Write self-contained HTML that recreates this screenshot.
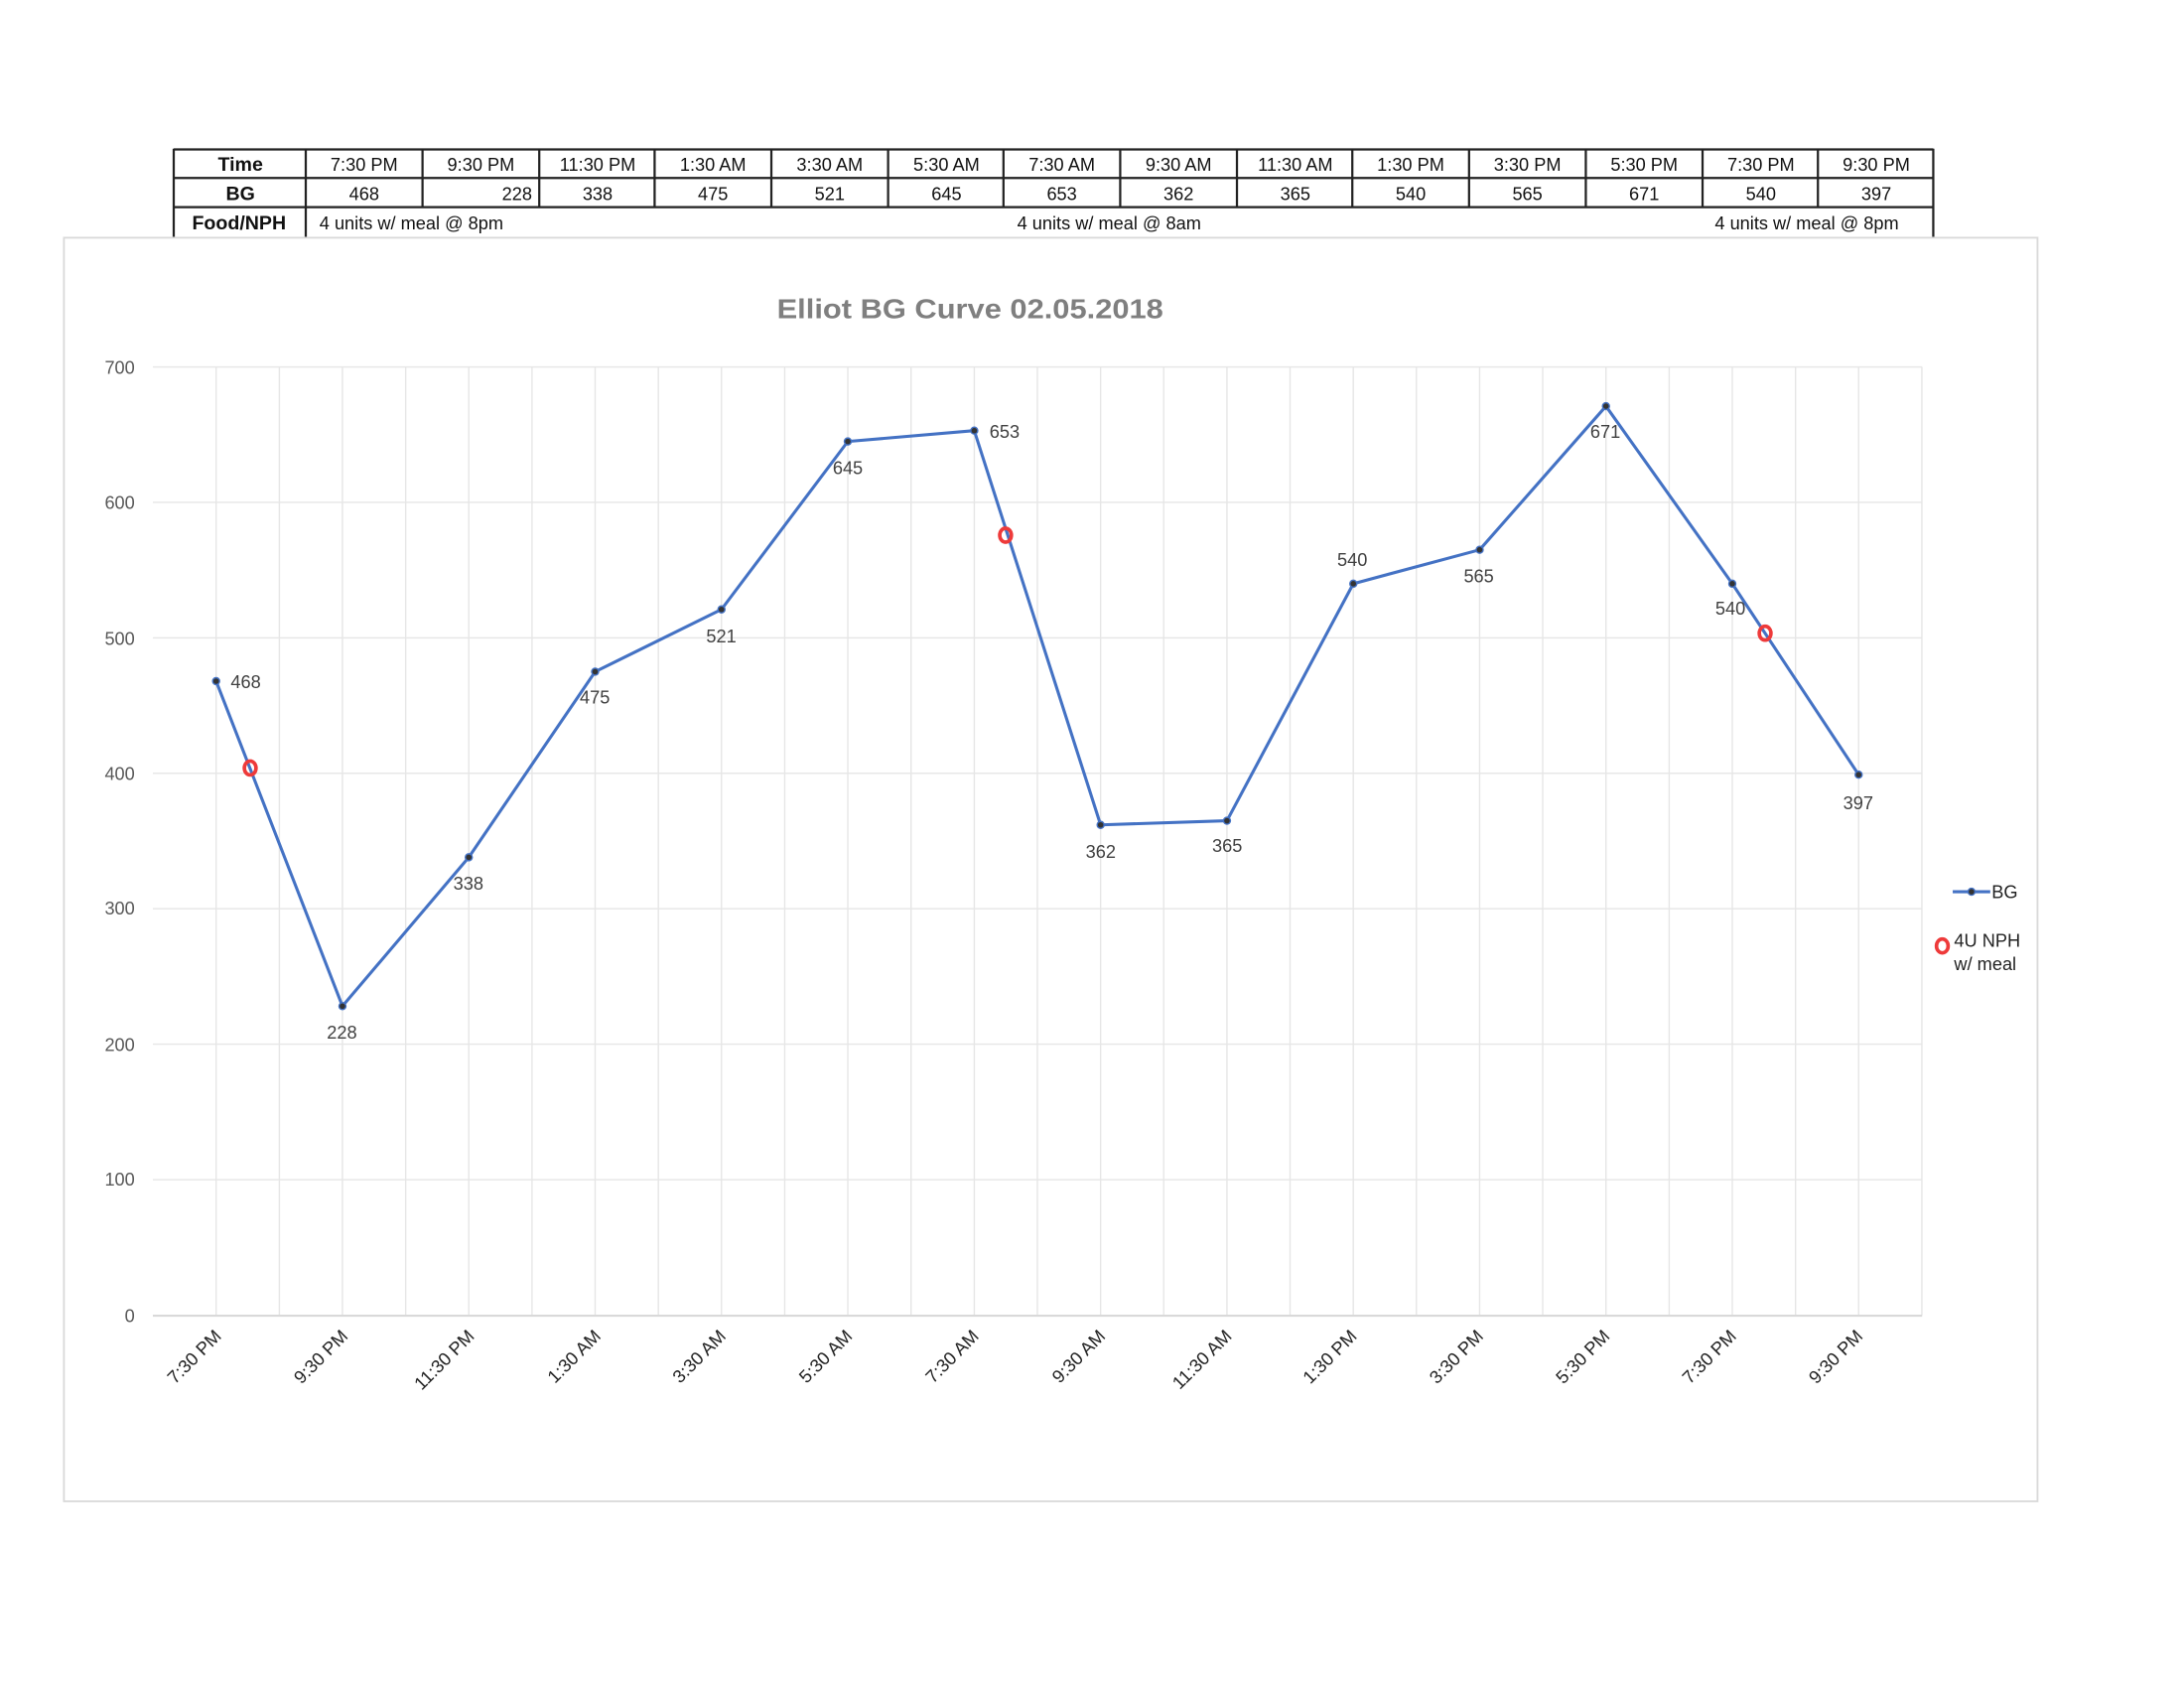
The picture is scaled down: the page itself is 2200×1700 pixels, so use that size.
<!DOCTYPE html>
<html><head><meta charset="utf-8"><style>html,body{margin:0;padding:0;background:#fff}svg{display:block}</style></head>
<body>
<svg width="2200" height="1700" viewBox="0 0 1571.4 1214.3" preserveAspectRatio="none" xmlns="http://www.w3.org/2000/svg" font-family="Liberation Sans, DejaVu Sans, sans-serif">
<rect width="1571.4" height="1214.3" fill="#fff"/>
<!-- table -->
<g stroke="#222" stroke-width="1.6" fill="none">
<line x1="125" y1="107.5" x2="1391" y2="107.5"/>
<line x1="125" y1="128" x2="1391" y2="128"/>
<line x1="125" y1="149" x2="1391" y2="149"/>
<line x1="125" y1="107" x2="125" y2="171"/>
<line x1="220" y1="107" x2="220" y2="171"/>
<line x1="1391" y1="107" x2="1391" y2="171"/>
<g>
<line x1="304" y1="107" x2="304" y2="149"/><line x1="388" y1="107" x2="388" y2="149"/><line x1="471" y1="107" x2="471" y2="149"/><line x1="555" y1="107" x2="555" y2="149"/><line x1="639" y1="107" x2="639" y2="149"/><line x1="722" y1="107" x2="722" y2="149"/><line x1="806" y1="107" x2="806" y2="149"/><line x1="890" y1="107" x2="890" y2="149"/><line x1="973" y1="107" x2="973" y2="149"/><line x1="1057" y1="107" x2="1057" y2="149"/><line x1="1141" y1="107" x2="1141" y2="149"/><line x1="1225" y1="107" x2="1225" y2="149"/><line x1="1308" y1="107" x2="1308" y2="149"/>
</g></g>
<g font-size="13" fill="#111" text-anchor="middle">
<text x="173" y="123" font-weight="bold" font-size="14">Time</text>
<text x="173" y="144" font-weight="bold" font-size="14">BG</text>
<text x="172" y="165" font-weight="bold" font-size="14">Food/NPH</text>
<text x="262" y="123">7:30 PM</text><text x="346" y="123">9:30 PM</text><text x="430" y="123">11:30 PM</text><text x="513" y="123">1:30 AM</text><text x="597" y="123">3:30 AM</text><text x="681" y="123">5:30 AM</text><text x="764" y="123">7:30 AM</text><text x="848" y="123">9:30 AM</text><text x="932" y="123">11:30 AM</text><text x="1015" y="123">1:30 PM</text><text x="1099" y="123">3:30 PM</text><text x="1183" y="123">5:30 PM</text><text x="1267" y="123">7:30 PM</text><text x="1350" y="123">9:30 PM</text>
<text x="262" y="144">468</text><text x="372" y="144">228</text><text x="430" y="144">338</text><text x="513" y="144">475</text><text x="597" y="144">521</text><text x="681" y="144">645</text><text x="764" y="144">653</text><text x="848" y="144">362</text><text x="932" y="144">365</text><text x="1015" y="144">540</text><text x="1099" y="144">565</text><text x="1183" y="144">671</text><text x="1267" y="144">540</text><text x="1350" y="144">397</text>
<text x="296" y="165">4 units w/ meal @ 8pm</text>
<text x="798" y="165">4 units w/ meal @ 8am</text>
<text x="1300" y="165">4 units w/ meal @ 8pm</text>
</g>
<!-- chart box -->
<rect x="46" y="171" width="1420" height="909" fill="#fff" stroke="#d9d9d9" stroke-width="1.3"/>
<text x="698" y="229" text-anchor="middle" font-size="20" font-weight="bold" fill="#7f7f7f" textLength="278" lengthAdjust="spacingAndGlyphs">Elliot BG Curve 02.05.2018</text>
<!-- grid -->
<g stroke="#e6e6e6" stroke-width="1">
<line x1="110" y1="264" x2="1383" y2="264"/><line x1="110" y1="361.4" x2="1383" y2="361.4"/><line x1="110" y1="458.9" x2="1383" y2="458.9"/><line x1="110" y1="556.3" x2="1383" y2="556.3"/><line x1="110" y1="653.7" x2="1383" y2="653.7"/><line x1="110" y1="751.1" x2="1383" y2="751.1"/><line x1="110" y1="848.6" x2="1383" y2="848.6"/>
<line x1="155.5" y1="264" x2="155.5" y2="946"/><line x1="201" y1="264" x2="201" y2="946"/><line x1="246.4" y1="264" x2="246.4" y2="946"/><line x1="291.9" y1="264" x2="291.9" y2="946"/><line x1="337.3" y1="264" x2="337.3" y2="946"/><line x1="382.8" y1="264" x2="382.8" y2="946"/><line x1="428.2" y1="264" x2="428.2" y2="946"/><line x1="473.7" y1="264" x2="473.7" y2="946"/><line x1="519.1" y1="264" x2="519.1" y2="946"/><line x1="564.6" y1="264" x2="564.6" y2="946"/><line x1="610" y1="264" x2="610" y2="946"/><line x1="655.5" y1="264" x2="655.5" y2="946"/><line x1="701" y1="264" x2="701" y2="946"/><line x1="746.4" y1="264" x2="746.4" y2="946"/><line x1="791.9" y1="264" x2="791.9" y2="946"/><line x1="837.3" y1="264" x2="837.3" y2="946"/><line x1="882.8" y1="264" x2="882.8" y2="946"/><line x1="928.2" y1="264" x2="928.2" y2="946"/><line x1="973.7" y1="264" x2="973.7" y2="946"/><line x1="1019.1" y1="264" x2="1019.1" y2="946"/><line x1="1064.6" y1="264" x2="1064.6" y2="946"/><line x1="1110" y1="264" x2="1110" y2="946"/><line x1="1155.5" y1="264" x2="1155.5" y2="946"/><line x1="1201" y1="264" x2="1201" y2="946"/><line x1="1246.4" y1="264" x2="1246.4" y2="946"/><line x1="1291.9" y1="264" x2="1291.9" y2="946"/><line x1="1337.3" y1="264" x2="1337.3" y2="946"/><line x1="1382.8" y1="264" x2="1382.8" y2="946"/>
</g>
<line x1="110" y1="946.5" x2="1383" y2="946.5" stroke="#d9d9d9" stroke-width="1.5"/>
<g font-size="13" fill="#595959" text-anchor="end">
<text x="97" y="269">700</text><text x="97" y="366">600</text><text x="97" y="464">500</text><text x="97" y="561">400</text><text x="97" y="658">300</text><text x="97" y="756">200</text><text x="97" y="853">100</text><text x="97" y="951">0</text>
</g>
<g font-size="13" fill="#222" text-anchor="end">
<text transform="translate(160,962) rotate(-45)">7:30 PM</text>
<text transform="translate(251,962) rotate(-45)">9:30 PM</text>
<text transform="translate(342,962) rotate(-45)">11:30 PM</text>
<text transform="translate(433,962) rotate(-45)">1:30 AM</text>
<text transform="translate(523,962) rotate(-45)">3:30 AM</text>
<text transform="translate(614,962) rotate(-45)">5:30 AM</text>
<text transform="translate(705,962) rotate(-45)">7:30 AM</text>
<text transform="translate(796,962) rotate(-45)">9:30 AM</text>
<text transform="translate(887,962) rotate(-45)">11:30 AM</text>
<text transform="translate(977,962) rotate(-45)">1:30 PM</text>
<text transform="translate(1068,962) rotate(-45)">3:30 PM</text>
<text transform="translate(1159,962) rotate(-45)">5:30 PM</text>
<text transform="translate(1250,962) rotate(-45)">7:30 PM</text>
<text transform="translate(1341,962) rotate(-45)">9:30 PM</text>
</g>
<!-- series -->
<polyline fill="none" stroke="#4472c4" stroke-width="2.2" stroke-linejoin="round" points="155.5,490 246.4,723.8 337.3,616.7 428.2,483.2 519.1,438.4 610,317.6 701,309.8 791.9,593.4 882.8,590.4 973.7,419.9 1064.6,395.5 1155.5,292.2 1246.4,419.9 1337.3,557.3"/>
<g fill="#333" stroke="#4472c4" stroke-width="1">
<circle cx="155.5" cy="490" r="2.5"/><circle cx="246.4" cy="723.8" r="2.5"/><circle cx="337.3" cy="616.7" r="2.5"/><circle cx="428.2" cy="483.2" r="2.5"/><circle cx="519.1" cy="438.4" r="2.5"/><circle cx="610" cy="317.6" r="2.5"/><circle cx="701" cy="309.8" r="2.5"/><circle cx="791.9" cy="593.4" r="2.5"/><circle cx="882.8" cy="590.4" r="2.5"/><circle cx="973.7" cy="419.9" r="2.5"/><circle cx="1064.6" cy="395.5" r="2.5"/><circle cx="1155.5" cy="292.2" r="2.5"/><circle cx="1246.4" cy="419.9" r="2.5"/><circle cx="1337.3" cy="557.3" r="2.5"/>
</g>
<g fill="none" stroke="#ee3a3a" stroke-width="2.6">
<ellipse cx="180" cy="552.5" rx="4.2" ry="5"/>
<ellipse cx="723.5" cy="385" rx="4.2" ry="5"/>
<ellipse cx="1270" cy="455.5" rx="4.2" ry="5"/>
<ellipse cx="1397.5" cy="680.5" rx="4.2" ry="5"/>
</g>
<g font-size="13" fill="#404040">
<text x="166" y="495">468</text>
<text x="246" y="747" text-anchor="middle">228</text>
<text x="337" y="640" text-anchor="middle">338</text>
<text x="428" y="506" text-anchor="middle">475</text>
<text x="519" y="462" text-anchor="middle">521</text>
<text x="610" y="341" text-anchor="middle">645</text>
<text x="712" y="315">653</text>
<text x="792" y="617" text-anchor="middle">362</text>
<text x="883" y="613" text-anchor="middle">365</text>
<text x="973" y="407" text-anchor="middle">540</text>
<text x="1064" y="419" text-anchor="middle">565</text>
<text x="1155" y="315" text-anchor="middle">671</text>
<text x="1245" y="442" text-anchor="middle">540</text>
<text x="1337" y="582" text-anchor="middle">397</text>
</g>
<!-- legend -->
<line x1="1405" y1="641.5" x2="1432" y2="641.5" stroke="#4472c4" stroke-width="2.2"/>
<circle cx="1418.5" cy="641.5" r="2.5" fill="#333" stroke="#4472c4"/>
<g font-size="13" fill="#222">
<text x="1433" y="646">BG</text>
<text x="1406" y="681">4U NPH</text>
<text x="1406" y="698">w/ meal</text>
</g>
</svg>
</body></html>
